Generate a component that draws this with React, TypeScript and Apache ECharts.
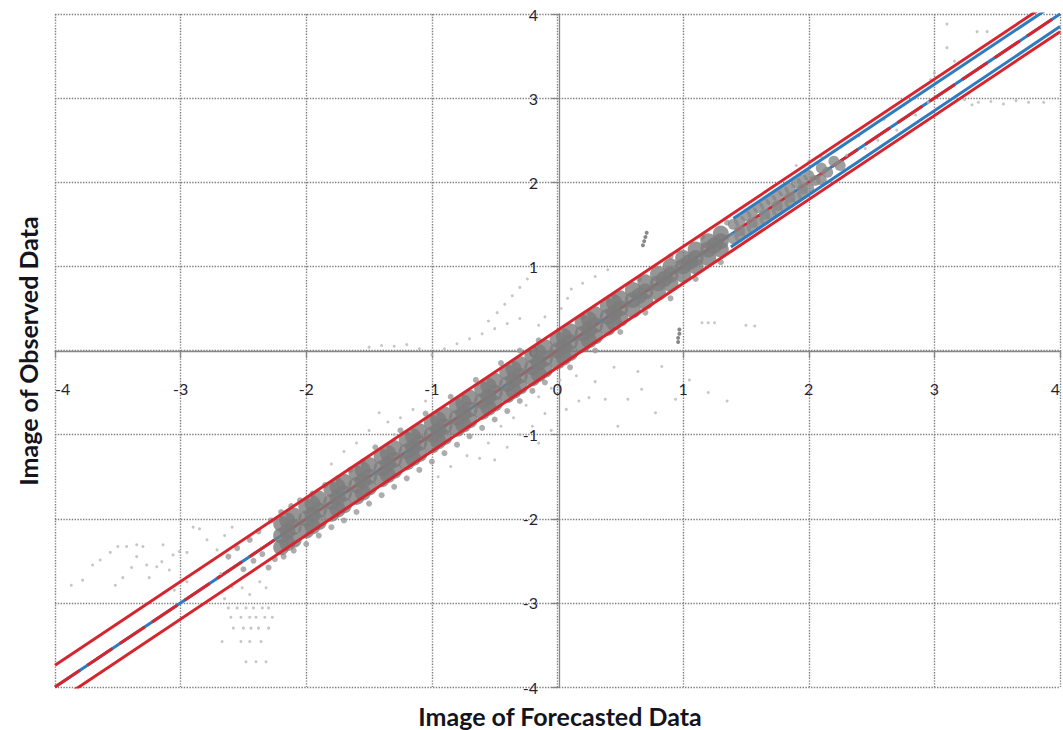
import React, { useEffect, useRef } from "react";
import * as echarts from "echarts";

const axisMin = -4;
const axisMax = 4;
const xAxisTitle = "Image of Forecasted Data";
const yAxisTitle = "Image of Observed Data";

// dense core of the point cloud along the diagonal
const bandCore: number[][] = [
  [-2.2, -2.06], [-2.2, -2.2], [-2.2, -2.34],
  [-2.1, -1.96], [-2.1, -2.1], [-2.1, -2.25],
  [-2.0, -1.85], [-2.0, -2.0], [-2.0, -2.14],
  [-1.9, -1.76], [-1.9, -1.9], [-1.9, -2.04],
  [-1.8, -1.65], [-1.8, -1.8], [-1.8, -1.94],
  [-1.7, -1.56], [-1.7, -1.7], [-1.7, -1.84],
  [-1.6, -1.46], [-1.6, -1.6], [-1.6, -1.74],
  [-1.5, -1.36], [-1.5, -1.5], [-1.5, -1.63],
  [-1.4, -1.26], [-1.4, -1.4], [-1.4, -1.53],
  [-1.3, -1.16], [-1.3, -1.3], [-1.3, -1.43],
  [-1.2, -1.06], [-1.2, -1.2], [-1.2, -1.33],
  [-1.1, -0.96], [-1.1, -1.1], [-1.1, -1.23],
  [-1.0, -0.86], [-1.0, -1.0], [-1.0, -1.13],
  [-0.9, -0.76], [-0.9, -0.9], [-0.9, -1.03],
  [-0.8, -0.66], [-0.8, -0.8], [-0.8, -0.93],
  [-0.7, -0.56], [-0.7, -0.7], [-0.7, -0.83],
  [-0.6, -0.46], [-0.6, -0.6], [-0.6, -0.73],
  [-0.5, -0.36], [-0.5, -0.5], [-0.5, -0.63],
  [-0.4, -0.26], [-0.4, -0.4], [-0.4, -0.53],
  [-0.3, -0.16], [-0.3, -0.3], [-0.3, -0.43],
  [-0.2, -0.06], [-0.2, -0.2], [-0.2, -0.33],
  [-0.1, 0.04], [-0.1, -0.1], [-0.1, -0.23],
  [0.0, 0.13], [0.0, 0.0], [0.0, -0.13],
  [0.1, 0.23], [0.1, 0.1], [0.1, -0.03],
  [0.2, 0.33], [0.2, 0.2], [0.2, 0.07],
  [0.3, 0.43], [0.3, 0.3], [0.3, 0.17],
  [0.4, 0.53], [0.4, 0.4], [0.4, 0.27],
  [0.5, 0.62], [0.5, 0.5], [0.5, 0.38],
  [0.6, 0.72], [0.6, 0.6], [0.6, 0.48],
  [0.7, 0.81], [0.7, 0.7], [0.7, 0.58],
  [0.8, 0.91], [0.8, 0.8], [0.8, 0.69],
  [0.9, 1.0], [0.9, 0.9], [0.9, 0.79],
  [1.0, 1.1], [1.0, 1.0], [1.0, 0.9],
  [1.1, 1.2], [1.1, 1.1], [1.1, 1.0],
  [1.2, 1.3], [1.2, 1.2], [1.2, 1.1],
  [1.3, 1.39], [1.3, 1.3], [1.3, 1.2],
  [-2.15, -2.15], [-1.95, -1.95], [-1.75, -1.75], [-1.55, -1.55], [-1.35, -1.35],
  [-1.15, -1.15], [-0.95, -0.95], [-0.75, -0.75], [-0.55, -0.55], [-0.35, -0.35],
  [-0.15, -0.15], [0.05, 0.05], [0.25, 0.25], [0.45, 0.45], [0.65, 0.65],
  [0.85, 0.85], [1.05, 1.05], [1.25, 1.25],
  [-2.15, -2.02], [-1.95, -1.82], [-1.75, -1.62], [-1.55, -1.42], [-1.35, -1.22],
  [-1.15, -1.02], [-0.95, -0.82], [-0.75, -0.62], [-0.55, -0.42], [-0.35, -0.22],
  [-0.15, -0.02], [0.05, 0.17], [0.25, 0.37], [0.45, 0.57],
  [-2.15, -2.29], [-1.95, -2.09], [-1.75, -1.89], [-1.55, -1.69], [-1.35, -1.48],
  [-1.15, -1.28], [-0.95, -1.08], [-0.75, -0.88], [-0.55, -0.68], [-0.35, -0.48],
  [-0.15, -0.28], [0.05, -0.08], [0.25, 0.12], [0.45, 0.33],
];

// thinner part of the cloud in the upper right
const bandThin: number[][] = [
  [1.4, 1.5], [1.45, 1.42], [1.4, 1.33], [1.5, 1.6], [1.55, 1.52], [1.5, 1.42],
  [1.6, 1.7], [1.65, 1.62], [1.6, 1.52], [1.7, 1.79], [1.75, 1.72], [1.7, 1.62],
  [1.8, 1.89], [1.85, 1.82], [1.8, 1.72], [1.9, 1.99], [1.95, 1.92], [1.9, 1.82],
  [2.0, 2.08], [2.05, 2.02], [2.0, 1.93], [2.1, 2.17], [2.15, 2.12], [2.1, 2.03],
  [2.2, 2.25], [2.25, 2.2],
  [1.45, 1.54], [1.55, 1.64], [1.65, 1.74], [1.75, 1.84], [1.85, 1.93], [1.95, 2.03],
  [1.45, 1.36], [1.55, 1.46], [1.65, 1.56], [1.75, 1.66], [1.85, 1.76], [1.95, 1.86],
];

// ragged edge of the cloud
const bandHalo: number[][] = [
  [-2.62, -2.45], [-2.55, -2.35], [-2.5, -2.6], [-2.45, -2.25], [-2.42, -2.5],
  [-2.38, -2.15], [-2.35, -2.42], [-2.3, -2.58], [-2.28, -2.02], [-2.25, -2.48],
  [-2.2, -1.92], [-2.18, -2.45], [-2.12, -1.85], [-2.1, -2.38], [-2.05, -1.78],
  [-2.0, -2.3], [-1.95, -1.7], [-1.9, -2.2], [-1.85, -1.6], [-1.8, -2.1],
  [-1.75, -1.52], [-1.7, -2.02], [-1.65, -1.42], [-1.6, -1.92], [-1.55, -1.32],
  [-1.5, -1.82], [-1.4, -1.72], [-1.3, -1.62], [-1.2, -1.52], [-1.1, -1.42],
  [-1.0, -1.32], [-0.9, -1.22], [-0.8, -1.12], [-0.7, -1.02], [-0.6, -0.92],
  [-0.5, -0.82], [-0.4, -0.72], [-0.3, -0.6], [-0.2, -0.48], [-0.1, -0.38],
  [-1.45, -1.15], [-1.25, -0.95], [-1.05, -0.75], [-0.85, -0.55], [-0.65, -0.35],
  [-0.45, -0.15], [-0.3, 0.0], [-0.15, 0.12],
  [0.1, -0.2], [0.3, 0.0], [0.5, 0.22], [0.7, 0.45], [0.9, 0.62], [1.1, 0.85],
  [1.3, 1.05], [0.2, 0.4], [0.45, 0.65], [0.65, 0.85], [0.9, 1.12], [1.15, 1.35],
  [1.35, 1.52],
];

// sparse points away from the diagonal
const outliers: number[][] = [
  [-3.87, -2.79], [-3.78, -2.73], [-3.7, -2.55], [-3.64, -2.49], [-3.56, -2.4],
  [-3.5, -2.33], [-3.43, -2.33], [-3.35, -2.31], [-3.3, -2.33], [-3.52, -2.79],
  [-3.46, -2.7], [-3.39, -2.58], [-3.35, -2.45], [-3.27, -2.55], [-3.19, -2.57],
  [-3.14, -2.31], [-3.15, -2.51], [-3.25, -2.7], [-3.09, -2.61], [-3.06, -2.43],
  [-3.01, -2.39], [-2.95, -2.4], [-2.9, -2.1], [-2.85, -2.12], [-2.79, -2.25],
  [-2.71, -2.37], [-2.59, -2.1], [-2.65, -2.2], [-2.75, -2.5], [-2.85, -2.6],
  [-2.95, -2.75], [-3.05, -2.85], [-2.68, -2.65],
  [-2.51, -2.82], [-2.59, -2.81], [-2.37, -2.75], [-2.32, -2.82], [-2.45, -2.9], [-2.65, -2.95],
  [-2.62, -3.06], [-2.55, -3.06], [-2.48, -3.06], [-2.42, -3.06], [-2.35, -3.06], [-2.3, -3.06],
  [-2.6, -3.17], [-2.52, -3.17], [-2.45, -3.17], [-2.4, -3.17], [-2.33, -3.17], [-2.27, -3.17],
  [-2.58, -3.3], [-2.5, -3.3], [-2.44, -3.3], [-2.38, -3.3], [-2.3, -3.3],
  [-2.67, -3.46], [-2.52, -3.46], [-2.45, -3.46], [-2.36, -3.46],
  [-2.48, -3.7], [-2.4, -3.7], [-2.32, -3.7],
  [0.3, -0.37], [0.38, -0.58], [0.64, -0.25], [0.67, -0.46], [0.83, -0.19],
  [0.78, -0.74], [0.94, -0.58], [0.56, -0.58], [0.48, -0.9], [0.25, -0.56],
  [0.17, -0.6], [0.07, -0.7], [1.05, -0.35], [1.2, -0.5], [1.35, -0.6],
  [0.15, -0.3], [0.45, -0.2],
  [1.15, 0.33], [1.2, 0.33], [1.25, 0.33], [1.57, 0.29], [1.5, 0.3],
  [-0.45, -0.9], [-0.35, -0.8], [-0.25, -0.65], [-0.15, -0.55], [-0.55, -1.1],
  [-0.62, -1.28], [-0.72, -1.25], [-0.85, -1.38], [-0.3, -1.0], [-0.2, -0.9],
  [-0.1, -0.75], [-0.05, -0.45], [0.02, -0.35], [-0.4, -1.15], [-0.5, -1.3],
  [-0.95, -1.5], [-0.15, -1.1], [-0.05, -0.95],
  [-1.42, -0.74], [-1.35, -0.85], [-1.25, -0.8], [-1.15, -0.7], [-1.05, -0.6],
  [-1.3, -1.0], [-1.5, -0.95], [-1.6, -1.1], [-1.7, -1.2], [-1.8, -1.35],
  [-1.5, 0.04], [-1.4, 0.06], [-1.3, 0.05], [-1.2, 0.07], [-1.1, 0.02],
  [-1.0, -0.05], [-0.9, 0.02], [-0.8, 0.08], [-0.7, 0.14], [-0.6, 0.2],
  [-0.5, 0.26], [-0.4, 0.32], [-0.3, 0.38],
  [-0.55, 0.35], [-0.48, 0.45], [-0.42, 0.55], [-0.36, 0.65], [-0.3, 0.75],
  [-0.24, 0.85], [0.03, 0.5], [0.08, 0.62], [0.11, 0.73], [0.2, 0.8],
  [0.3, 0.88], [0.4, 0.96], [-0.15, 0.3], [-0.1, 0.4],
  [2.3, 2.32], [2.45, 2.4], [2.55, 2.5], [2.7, 2.62], [2.85, 2.8], [2.95, 2.95],
  [2.4, 2.55], [2.6, 2.75], [2.97, 3.22], [3.0, 3.3], [3.1, 3.88], [3.34, 3.79],
  [3.42, 3.79], [3.1, 3.6], [3.16, 3.44], [3.24, 2.98], [3.35, 2.95], [3.45, 2.96],
  [3.55, 2.93], [3.65, 2.97], [3.75, 2.95], [3.87, 2.95], [3.3, 2.92],
  [2.2, 2.0], [2.3, 2.1], [1.9, 2.2], [2.0, 2.25], [2.1, 2.3],
];

// short dark streaks
const darkMarks: number[][] = [
  [0.71, 1.4], [0.7, 1.35], [0.69, 1.3], [0.68, 1.25],
  [0.97, 0.25], [0.97, 0.2], [0.96, 0.15], [0.96, 0.1],
];

// reference lines
const redUpper: number[][] = [[-4, -3.74], [4, 4.22]];
const redLower: number[][] = [[-4, -4.19], [4, 3.79]];
const blueUpper: number[][] = [[1.4, 1.57], [4, 4.16]];
const blueLower: number[][] = [[1.38, 1.23], [4, 3.85]];
const identityLine: number[][] = [[-4, -4], [4, 4]];

const RED = "#d7252d";
const BLUE = "#2f7bbf";
const AXIS = "#868686";
const LABEL = "#2a1f33";

export default function App() {
  const ref = useRef<HTMLDivElement>(null);

  useEffect(() => {
    if (!ref.current) return;
    const chart = echarts.init(ref.current, undefined, { renderer: "svg" });

    const axisCommon = {
      type: "value" as const,
      min: axisMin,
      max: axisMax,
      interval: 1,
      axisLine: { onZero: false, lineStyle: { color: AXIS, width: 1.3 } },
      axisTick: { show: true, length: 7, lineStyle: { color: AXIS, width: 1.3 } },
      splitLine: { show: true, lineStyle: { type: "dotted" as const, color: "#7f7f7f", width: 1.4 } },
    };

    const lineSeries = (data: number[][], color: string, width: number, z: number, dashed?: boolean) => ({
      type: "line",
      data,
      symbol: "none",
      silent: true,
      z,
      lineStyle: { color, width, type: dashed ? [30, 9] : "solid" },
    });

    chart.setOption({
      animation: false,
      grid: { left: 55, right: 0, top: 14, bottom: 43, containLabel: false },
      xAxis: {
        ...axisCommon,
        position: "bottom",
        offset: -336,
        axisLabel: {
          margin: 29,
          fontSize: 16,
          color: LABEL,
          fontFamily: "Lato",
          alignMinLabel: "left",
          alignMaxLabel: "right",
        },
      },
      yAxis: {
        ...axisCommon,
        position: "left",
        offset: -504,
        axisLabel: { margin: 21, fontSize: 16, color: LABEL, fontFamily: "Lato" },
      },
      graphic: [
        {
          type: "text",
          x: 560,
          y: 716,
          style: {
            text: xAxisTitle,
            align: "center",
            verticalAlign: "middle",
            font: "bold 25px Lato",
            fill: "#141420",
          },
        },
        {
          type: "text",
          x: 28,
          y: 351,
          rotation: Math.PI / 2,
          style: {
            text: yAxisTitle,
            align: "center",
            verticalAlign: "middle",
            font: "bold 25px Lato",
            fill: "#141420",
          },
        },
      ],
      series: [
        lineSeries(identityLine, BLUE, 3, 1),
        lineSeries(identityLine, RED, 3, 1.5, true),
        { type: "scatter", data: outliers, symbolSize: 3, itemStyle: { color: "#b8b8b8" }, silent: true, z: 2 },
        { type: "scatter", data: bandHalo, symbolSize: 6, itemStyle: { color: "#9a9a9a" }, silent: true, z: 2 },
        { type: "scatter", data: bandThin, symbolSize: 11, itemStyle: { color: "#878787" }, silent: true, z: 2 },
        { type: "scatter", data: bandCore, symbolSize: 16, itemStyle: { color: "#7c7c7c" }, silent: true, z: 2 },
        { type: "scatter", data: darkMarks, symbolSize: 4, itemStyle: { color: "#6a6a6a" }, silent: true, z: 2 },
        lineSeries(blueUpper, BLUE, 3, 3),
        lineSeries(blueLower, BLUE, 3, 3),
        lineSeries(redUpper, RED, 3, 4),
        lineSeries(redLower, RED, 3, 4),
      ],
    });

    return () => chart.dispose();
  }, []);

  return (
    <div
      ref={ref}
      style={{ position: "absolute", left: 0, top: 0, width: 1063, height: 730, background: "#fff" }}
    />
  );
}
